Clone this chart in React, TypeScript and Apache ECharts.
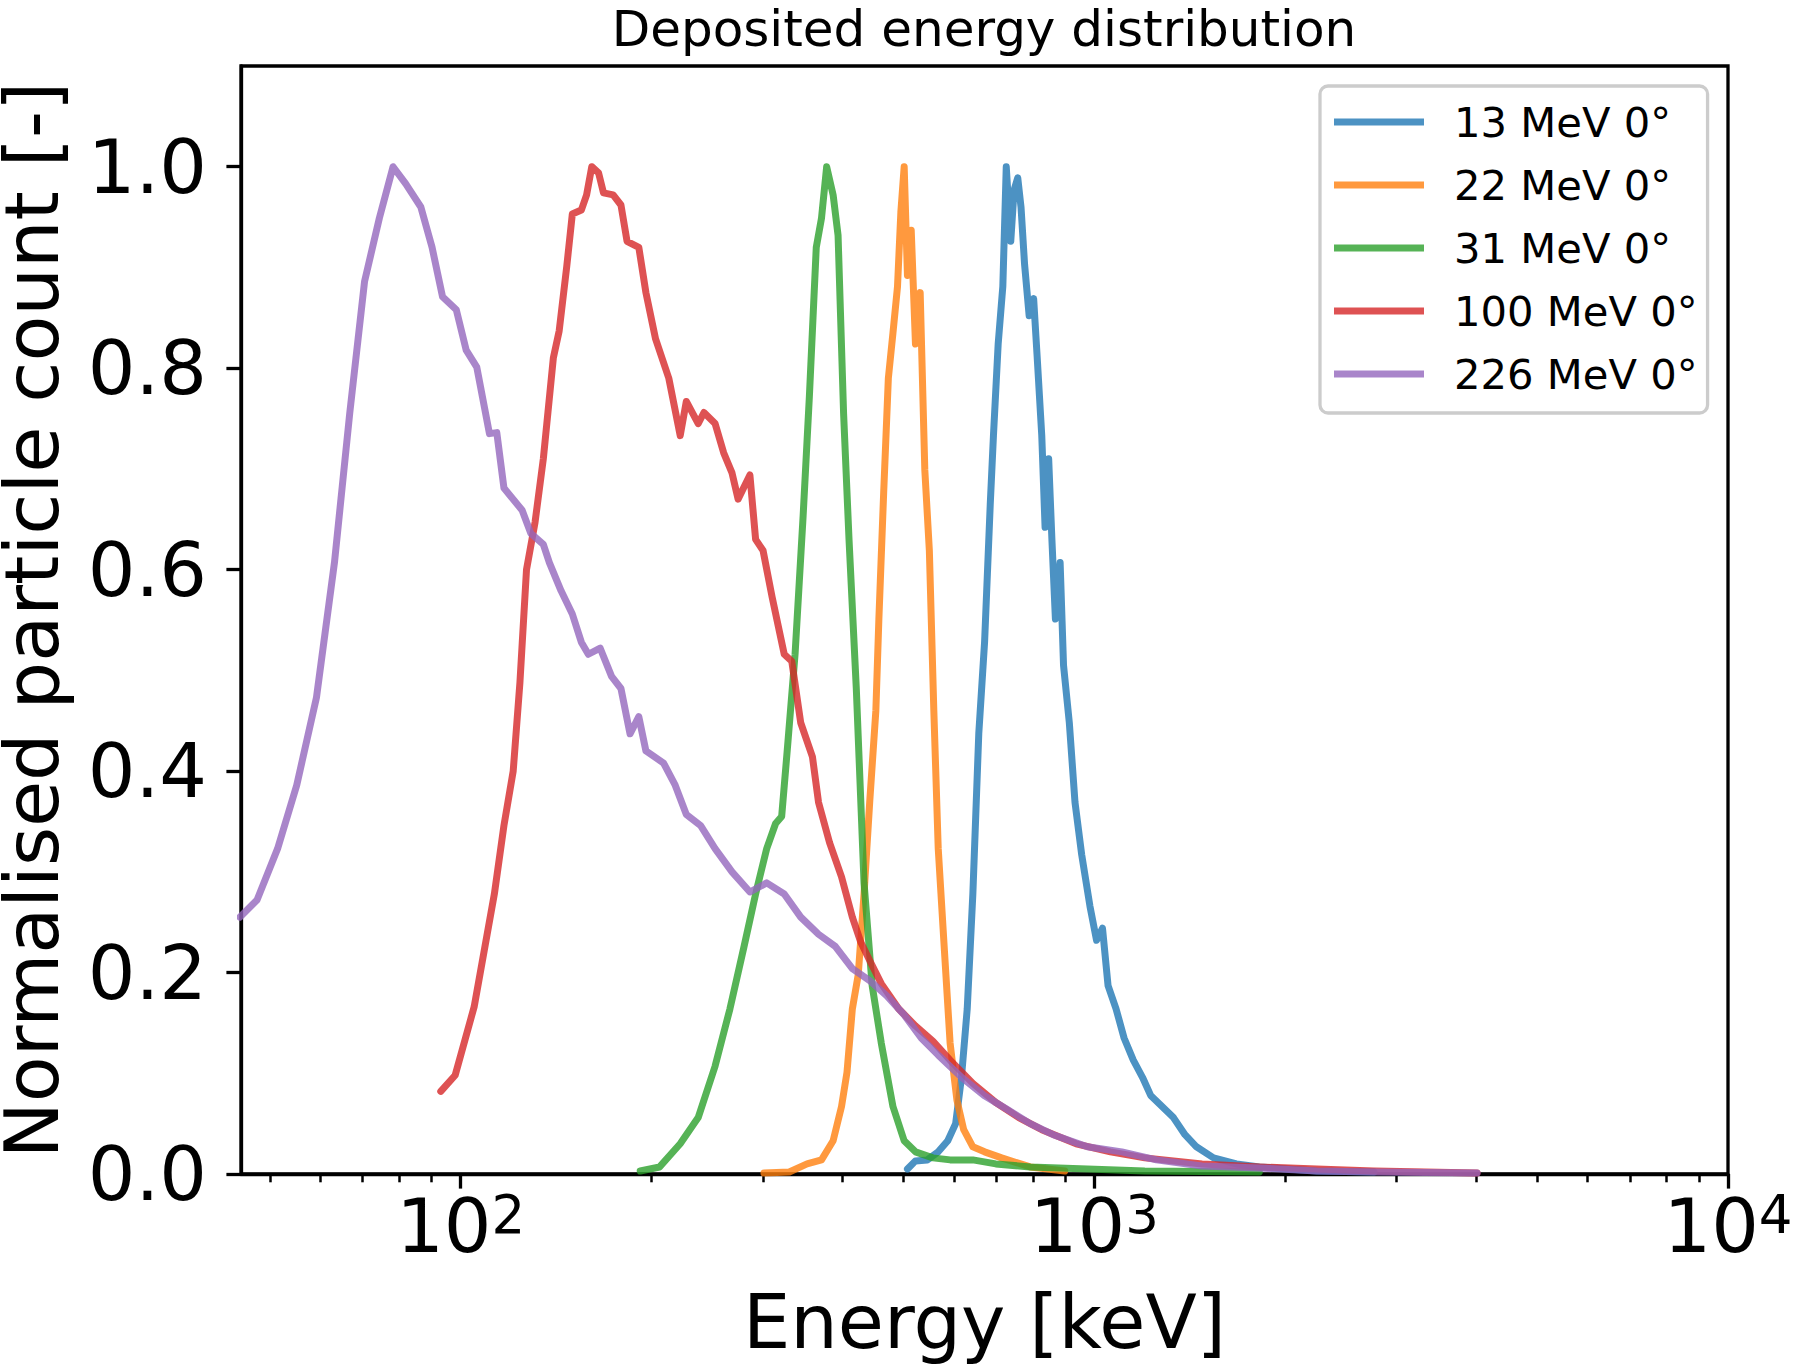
import React, { useEffect, useRef } from 'react';
import * as echarts from 'echarts';

const TITLE = 'Deposited energy distribution';
const X_NAME = 'Energy [keV]';
const Y_NAME = 'Normalised particle count [-]';

const SERIES_NAMES = ['13 MeV 0°', '22 MeV 0°', '31 MeV 0°', '100 MeV 0°', '226 MeV 0°'];
const COLORS = ['#1f77b4', '#ff7f0e', '#2ca02c', '#d62728', '#9467bd'];

const E13 = [507, 522, 545, 567, 587, 604, 617, 630, 643, 657, 671, 685, 693, 705, 717, 726, 738, 747, 757, 766, 776, 789, 802, 812, 826, 836, 847, 857, 868, 883, 894, 913, 932, 955, 984, 1008, 1030, 1051, 1082, 1114, 1152, 1191, 1227, 1279, 1333, 1390, 1449, 1542, 1676, 1821, 2243, 2763];
const C13 = [0.005, 0.013, 0.014, 0.022, 0.033, 0.05, 0.096, 0.164, 0.278, 0.437, 0.528, 0.665, 0.733, 0.824, 0.881, 1.0, 0.926, 0.977, 0.989, 0.96, 0.903, 0.852, 0.869, 0.813, 0.733, 0.642, 0.71, 0.63, 0.551, 0.607, 0.505, 0.448, 0.369, 0.317, 0.266, 0.232, 0.244, 0.187, 0.164, 0.135, 0.113, 0.096, 0.078, 0.067, 0.056, 0.039, 0.027, 0.016, 0.01, 0.007, 0.003, 0.002];

const E22 = [301, 330, 352, 371, 387, 399, 407, 415, 424, 433, 442, 452, 457, 465, 473, 481, 489, 495, 501, 507, 514, 522, 531, 540, 549, 558, 567, 580, 592, 607, 622, 643, 671, 714, 792, 898];
const C22 = [0.001, 0.002, 0.01, 0.014, 0.033, 0.067, 0.101, 0.164, 0.198, 0.278, 0.369, 0.46, 0.551, 0.676, 0.79, 0.835, 0.881, 0.955, 1.0, 0.892, 0.937, 0.824, 0.875, 0.699, 0.619, 0.46, 0.323, 0.221, 0.13, 0.073, 0.044, 0.027, 0.022, 0.016, 0.007, 0.003];

const E31 = [192, 206, 222, 237, 252, 266, 280, 292, 304, 314, 321, 328, 337, 347, 355, 364, 371, 378, 387, 394, 402, 410, 421, 433, 446, 461, 481, 501, 522, 556, 592, 643, 699, 792, 975, 1201, 1821];
const C31 = [0.003, 0.007, 0.03, 0.056, 0.107, 0.164, 0.226, 0.278, 0.323, 0.348, 0.355, 0.425, 0.516, 0.653, 0.772, 0.92, 0.949, 1.0, 0.972, 0.932, 0.755, 0.63, 0.482, 0.289, 0.187, 0.13, 0.067, 0.033, 0.022, 0.016, 0.014, 0.014, 0.01, 0.007, 0.005, 0.003, 0.002];

const E100 = [93, 98, 105, 113, 117, 121, 124, 127, 131, 135, 140, 143, 147, 150, 155, 158, 161, 165, 168, 174, 179, 183, 191, 196, 203, 213, 222, 227, 237, 242, 252, 260, 268, 274, 286, 292, 300, 310, 324, 333, 344, 359, 367, 382, 399, 415, 428, 442, 461, 491, 522, 556, 592, 643, 699, 760, 826, 936, 1060, 1201, 1479, 1821, 2243, 2763, 4018];
const C100 = [0.082, 0.098, 0.166, 0.278, 0.346, 0.4, 0.488, 0.6, 0.647, 0.71, 0.81, 0.837, 0.901, 0.953, 0.957, 0.972, 1.0, 0.994, 0.974, 0.972, 0.962, 0.926, 0.92, 0.875, 0.829, 0.79, 0.733, 0.767, 0.745, 0.756, 0.745, 0.716, 0.696, 0.67, 0.694, 0.63, 0.619, 0.573, 0.516, 0.509, 0.448, 0.414, 0.369, 0.329, 0.295, 0.255, 0.23, 0.212, 0.189, 0.164, 0.147, 0.132, 0.113, 0.09, 0.071, 0.056, 0.044, 0.03, 0.022, 0.016, 0.01, 0.007, 0.005, 0.003, 0.001];

const E226 = [44.8, 47.7, 51.4, 55.1, 59.2, 63.2, 66.8, 70.5, 74.4, 78.2, 81.9, 86.5, 90.1, 93.6, 98.4, 102, 106, 111, 114, 117, 125, 129, 135, 138, 144, 150, 155, 159, 166, 173, 179, 185, 191, 196, 209, 218, 227, 239, 252, 268, 286, 304, 324, 344, 367, 390, 415, 442, 470, 501, 533, 567, 617, 670, 729, 792, 861, 975, 1105, 1253, 1479, 1821, 2243, 2763, 4018];
const C226 = [0.255, 0.272, 0.323, 0.386, 0.473, 0.607, 0.755, 0.886, 0.949, 1.0, 0.983, 0.96, 0.92, 0.871, 0.858, 0.818, 0.801, 0.735, 0.736, 0.681, 0.659, 0.636, 0.625, 0.607, 0.579, 0.556, 0.528, 0.516, 0.522, 0.494, 0.482, 0.437, 0.454, 0.42, 0.408, 0.386, 0.357, 0.346, 0.323, 0.3, 0.28, 0.289, 0.278, 0.255, 0.238, 0.226, 0.204, 0.192, 0.177, 0.158, 0.135, 0.118, 0.096, 0.078, 0.064, 0.05, 0.039, 0.027, 0.022, 0.014, 0.008, 0.006, 0.003, 0.002, 0.001];

const ENERGIES = [E13, E22, E31, E100, E226];
const COUNTS = [C13, C22, C31, C100, C226];

const X_MIN = 45;
const X_MAX = 10000;
const X_MAJOR = [100, 1000, 10000];
const X_MINOR = [50, 60, 70, 80, 90, 200, 300, 400, 500, 600, 700, 800, 900, 2000, 3000, 4000, 5000, 6000, 7000, 8000, 9000];
const Y_TICKS = [0, 0.2, 0.4, 0.6, 0.8, 1.0];
const Y_MAX = 1.1;

const FONT = 'DejaVu Sans';

export default function App() {
  const ref = useRef<HTMLDivElement>(null);
  useEffect(() => {
    document.body.style.margin = '0';
    if (!ref.current) return;
    const chart = echarts.init(ref.current, null, { renderer: 'svg' });
    const series = SERIES_NAMES.map((name, i) => ({
      name,
      type: 'line',
      xAxisIndex: 0,
      yAxisIndex: 0,
      showSymbol: false,
      symbol: 'none',
      data: ENERGIES[i].map((e, j) => [e, COUNTS[i][j]]),
      lineStyle: { color: COLORS[i], width: 7, opacity: 0.8, join: 'round', cap: 'round' },
      itemStyle: { color: COLORS[i], opacity: 0.8 },
      z: 2 + i,
    }));
    chart.setOption({
      animation: false,
      backgroundColor: '#ffffff',
      title: {
        text: TITLE,
        left: 984,
        textAlign: 'center',
        top: 4,
        padding: 0,
        textStyle: { fontFamily: FONT, fontSize: 50, fontWeight: 'normal', color: '#000' },
      },
      grid: {
        left: 241,
        top: 66,
        right: 68,
        bottom: 195,
        show: true,
        borderColor: '#000',
        borderWidth: 3.3,
        backgroundColor: 'transparent',
        containLabel: false,
        outerBoundsMode: 'none',
      },
      legend: {
        orient: 'vertical',
        left: 1320,
        top: 86,
        data: SERIES_NAMES,
        icon: 'rect',
        itemWidth: 90,
        itemHeight: 7,
        itemGap: 21,
        backgroundColor: 'rgba(255,255,255,0.8)',
        borderColor: '#cccccc',
        borderWidth: 3.3,
        borderRadius: 8,
        padding: [15, 10, 18, 14],
        textStyle: {
          fontFamily: FONT,
          fontSize: 41.7,
          lineHeight: 42,
          color: '#000',
          padding: [0, 0, 0, 25],
        },
      },
      xAxis: [
        {
          type: 'log',
          logBase: 10,
          min: X_MIN,
          max: X_MAX,
          position: 'bottom',
          name: X_NAME,
          nameLocation: 'middle',
          nameGap: 110,
          nameTextStyle: { fontFamily: FONT, fontSize: 75, color: '#000' },
          axisLine: { show: true, onZero: false, lineStyle: { color: '#000', width: 3.3 } },
          axisTick: { show: true, inside: false, length: 14.6, customValues: X_MAJOR, lineStyle: { color: '#000', width: 3.3 } },
          axisLabel: {
            show: true,
            customValues: X_MAJOR,
            margin: 14,
            formatter: (v: number) => '10{sup|' + Math.round(Math.log10(v)) + '}',
            fontFamily: FONT,
            fontSize: 75,
            color: '#000',
            rich: {
              sup: { fontFamily: FONT, fontSize: 53, color: '#000', verticalAlign: 'top' },
            },
          },
          splitLine: { show: false },
          minorTick: { show: false },
        },
        {
          type: 'log',
          logBase: 10,
          min: X_MIN,
          max: X_MAX,
          position: 'bottom',
          axisLine: { show: false, onZero: false },
          axisTick: { show: true, inside: false, length: 8.3, customValues: X_MINOR, lineStyle: { color: '#000', width: 2.5 } },
          axisLabel: { show: false },
          splitLine: { show: false },
        },
      ],
      yAxis: {
        type: 'value',
        min: 0,
        max: Y_MAX,
        name: Y_NAME,
        nameLocation: 'middle',
        nameRotate: 90,
        nameGap: 179,
        nameTextStyle: { fontFamily: FONT, fontSize: 75, lineHeight: 60, color: '#000' },
        axisLine: { show: true, onZero: false, lineStyle: { color: '#000', width: 3.3 } },
        axisTick: { show: true, inside: false, length: 14.6, customValues: Y_TICKS, lineStyle: { color: '#000', width: 3.3 } },
        axisLabel: {
          show: true,
          customValues: Y_TICKS,
          margin: 34,
          formatter: (v: number) => v.toFixed(1),
          fontFamily: FONT,
          fontSize: 75,
          color: '#000',
        },
        splitLine: { show: false },
      },
      series,
    });
    return () => chart.dispose();
  }, []);
  return <div ref={ref} style={{ width: 1796, height: 1369 }} />;
}
